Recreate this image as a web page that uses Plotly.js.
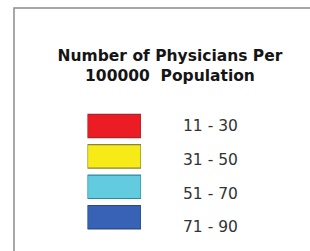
<!DOCTYPE html>
<html><head><meta charset="utf-8">
<script src="https://cdn.plot.ly/plotly-3.0.1.min.js"></script>
<style>html,body{margin:0;padding:0;background:#fff}#chart{width:310px;height:251px}</style>
</head><body><div id="chart"></div>
<script>
const titleLines = ["Number of Physicians Per", "100000\u00a0 Population"];
const classes = ["11 - 30", "31 - 50", "51 - 70", "71 - 90"];
const swatchLength = classes.map(() => 1);
const labelAnchor = classes.map(() => 0);
const fillColors = ["#ec1c24", "#f6eb17", "#62cbe0", "#3762b5"];
const edgeColors = ["#a8262a", "#8a8236", "#2f8a98", "#284a8c"];

const hidden = {showgrid:false, zeroline:false, showticklabels:false, showline:false, ticks:'', fixedrange:true};
const catRange = [classes.length - 0.5, -0.5];

const traces = [
  {type:'bar', orientation:'h', x:swatchLength, y:classes, xaxis:'x', yaxis:'y',
   marker:{color:fillColors, line:{color:edgeColors, width:1.2}}, hoverinfo:'skip', showlegend:false},
  {type:'scatter', mode:'text', x:labelAnchor, y:classes, xaxis:'x2', yaxis:'y2',
   text:classes, textposition:'middle right', cliponaxis:false,
   textfont:{family:'DejaVu Sans', size:15.5, color:'#333333'}, hoverinfo:'skip', showlegend:false}
];

const layout = {
  width:310, height:251, margin:{l:0,r:0,t:0,b:0},
  paper_bgcolor:'#ffffff', plot_bgcolor:'rgba(0,0,0,0)',
  title:{text:titleLines.join('<br>'), x:170/310, xanchor:'center', y:1-61/251, yanchor:'top',
         font:{family:'DejaVu Sans', size:15.5, color:'#151515', weight:'bold'}},
  bargap:0.23,
  xaxis:Object.assign({domain:[87.5/310, 141/310], range:[0,1]}, hidden),
  yaxis:Object.assign({domain:[1-232.4/251, 1-110.8/251], range:catRange, type:'category'}, hidden),
  xaxis2:Object.assign({domain:[183/310, 1], range:[0,1], anchor:'y2'}, hidden),
  yaxis2:Object.assign({domain:[1-245.4/251, 1-110.7/251], range:catRange, type:'category', anchor:'x2'}, hidden),
  shapes:[{type:'rect', xref:'paper', yref:'paper', x0:14/310, x1:1.1, y0:1-8/251, y1:-0.1,
           line:{color:'#8c8c8c', width:1.5}, fillcolor:'rgba(0,0,0,0)', layer:'below'}]
};

Plotly.newPlot('chart', traces, layout, {staticPlot:true, displayModeBar:false});
</script></body></html>
